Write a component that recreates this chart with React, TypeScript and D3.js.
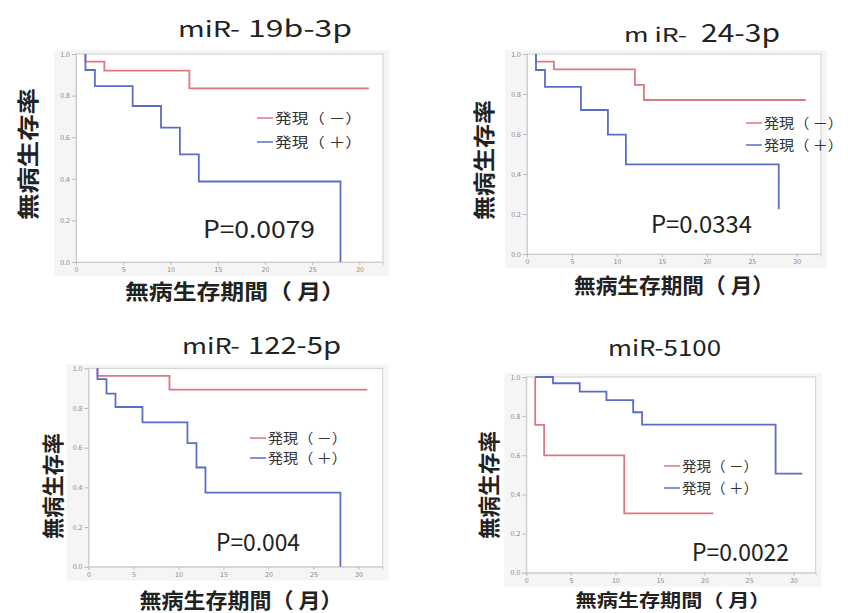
import { useRef, useEffect } from 'react';
import * as d3 from 'd3';

const W = 848;
const H = 613;
const RED = '#dc7882';
const BLUE = '#5a6ec8';
const FONT = '"Noto Sans CJK JP", "Noto Sans", sans-serif';

const X_TICKS = [0, 5, 10, 15, 20, 25, 30];
const Y_TICKS = [0, 0.2, 0.4, 0.6, 0.8, 1.0];
const LEGEND_LABELS = ['発現（ －）', '発現（ ＋）'];
const Y_TITLE = '無病生存率';
const X_TITLE = '無病生存期間（ 月）';

// miR-19b-3p
const neg19bTime = [1, 1, 3, 12, 31];
const neg19bSurv = [1, 0.963, 0.92, 0.835, 0.835];
const pos19bTime = [1, 1, 2, 6, 9, 11, 13, 28];
const pos19bSurv = [1, 0.923, 0.846, 0.75, 0.646, 0.517, 0.387, 0];

// miR-24-3p
const neg24Time = [1, 1, 3, 12, 13, 31];
const neg24Surv = [1, 0.962, 0.923, 0.846, 0.77, 0.77];
const pos24Time = [1, 1, 2, 6, 9, 11, 28];
const pos24Surv = [1, 0.92, 0.836, 0.72, 0.597, 0.448, 0.224];

// miR-122-5p
const neg122Time = [1, 1, 9, 31];
const neg122Surv = [1, 0.962, 0.893, 0.893];
const pos122Time = [1, 1, 2, 3, 6, 11, 12, 13, 28];
const pos122Surv = [1, 0.945, 0.872, 0.805, 0.727, 0.623, 0.5, 0.373, 0];

// miR-5100
const neg5100Time = [1, 1, 2, 11, 21];
const neg5100Surv = [1, 0.755, 0.6, 0.303, 0.303];
const pos5100Time = [1, 3, 6, 9, 12, 13, 28, 31];
const pos5100Surv = [1, 0.968, 0.925, 0.882, 0.82, 0.757, 0.506, 0.506];

const zip = (t: number[], s: number[]) => t.map((v, i) => [v, s[i]] as [number, number]);

// layout per panel (pixel boxes)
const PANELS = [
  {
    neg: zip(neg19bTime, neg19bSurv), pos: zip(pos19bTime, pos19bSurv),
    x0: 76, x1: 383, xMax: 32.5, y0: 54, y1: 262,
    title: [
      { text: 'miR-', x: 178, len: 62, size: 22 },
      { text: '19b-3p', x: 248, len: 104, size: 23 },
    ], titleY: 37,
    p: 'P=0.0079', px: 203, plen: 112, py: 238,
    leg: { x: 257, yr: 118, yb: 142, len: 87 },
    yt: { cx: 26, cy: 154, len: 132 },
    xt: { cx: 235, y: 299, len: 220, size: 21 },
  },
  {
    neg: zip(neg24Time, neg24Surv), pos: zip(pos24Time, pos24Surv),
    x0: 527, x1: 821, xMax: 32.7, y0: 54, y1: 254,
    title: [
      { text: 'm iR-', x: 624, len: 63, size: 19 },
      { text: '24-3p', x: 701, len: 79, size: 25 },
    ], titleY: 42,
    p: 'P=0.0334', px: 651, plen: 101, py: 233,
    leg: { x: 746, yr: 123, yb: 145, len: 79 },
    yt: { cx: 482, cy: 160, len: 120 },
    xt: { cx: 674, y: 293, len: 200, size: 21 },
  },
  {
    neg: zip(neg122Time, neg122Surv), pos: zip(pos122Time, pos122Surv),
    x0: 88.5, x1: 382.7, xMax: 32.7, y0: 368.3, y1: 566.7,
    title: [
      { text: 'miR-', x: 182, len: 58, size: 22 },
      { text: '122-5p', x: 248, len: 93, size: 24 },
    ], titleY: 354,
    p: 'P=0.004', px: 216, plen: 84, py: 551,
    leg: { x: 250, yr: 438, yb: 458, len: 79 },
    yt: { cx: 51, cy: 486, len: 106 },
    xt: { cx: 241, y: 608, len: 203, size: 21 },
  },
  {
    neg: zip(neg5100Time, neg5100Surv), pos: zip(pos5100Time, pos5100Surv),
    x0: 526.3, x1: 815.7, xMax: 32.5, y0: 377, y1: 572.7,
    title: [
      { text: 'miR-5100', x: 608, len: 113, size: 22 },
    ], titleY: 356,
    p: 'P=0.0022', px: 692, plen: 97, py: 561,
    leg: { x: 664, yr: 466, yb: 488, len: 76 },
    yt: { cx: 487, cy: 485, len: 108 },
    xt: { cx: 673, y: 607, len: 195, size: 18 },
  },
];

export default function App() {
  const svgRef = useRef<SVGSVGElement | null>(null);

  useEffect(() => {
    const svg = d3.select(svgRef.current);
    svg.selectAll('*').remove();

    PANELS.forEach((p) => {
      const g = svg.append('g');
      const x = d3.scaleLinear().domain([0, p.xMax]).range([p.x0, p.x1]);
      const y = d3.scaleLinear().domain([0, 1]).range([p.y1, p.y0]);

      // soft grey backdrop + white plot area
      g.append('rect')
        .attr('x', p.x0 - 22).attr('y', p.y0 - 4)
        .attr('width', p.x1 - p.x0 + 28).attr('height', p.y1 - p.y0 + 18)
        .attr('fill', '#f5f5f5');
      g.append('rect')
        .attr('x', p.x0).attr('y', p.y0)
        .attr('width', p.x1 - p.x0).attr('height', p.y1 - p.y0)
        .attr('fill', '#fff').attr('stroke', '#cfcfcf').attr('stroke-width', 1);

      // axes
      g.append('g')
        .attr('transform', `translate(${p.x0},0)`)
        .call(d3.axisLeft(y).tickValues(Y_TICKS).tickFormat(d3.format('.1f')).tickSize(4).tickPadding(2))
        .call((a) => a.select('.domain').attr('stroke', '#cfcfcf'))
        .call((a) => a.selectAll('.tick line').attr('stroke', '#bbb'))
        .call((a) => a.selectAll('.tick text').attr('fill', '#8a8a8a').attr('font-size', '7px').attr('font-family', FONT));

      g.append('g')
        .attr('transform', `translate(0,${p.y1})`)
        .call(d3.axisBottom(x).tickValues(X_TICKS).tickFormat(d3.format('d')).tickSize(3).tickPadding(2))
        .call((a) => a.select('.domain').attr('stroke', '#cfcfcf'))
        .call((a) => a.selectAll('.tick line').attr('stroke', '#bbb'))
        .call((a) => a.selectAll('.tick text').attr('fill', '#8a8a8a').attr('font-size', '7px').attr('font-family', FONT));

      // survival curves
      const line = d3.line<[number, number]>()
        .x((d) => x(d[0]))
        .y((d) => y(d[1]))
        .curve(d3.curveStepAfter);

      g.append('path').attr('d', line(p.neg)).attr('fill', 'none')
        .attr('stroke', RED).attr('stroke-width', 1.8);
      g.append('path').attr('d', line(p.pos)).attr('fill', 'none')
        .attr('stroke', BLUE).attr('stroke-width', 1.8);

      // legend
      [[p.leg.yr, RED], [p.leg.yb, BLUE]].forEach(([ly, c], i) => {
        g.append('line')
          .attr('x1', p.leg.x).attr('x2', p.leg.x + 16)
          .attr('y1', ly as number).attr('y2', ly as number)
          .attr('stroke', c as string).attr('stroke-width', 1.5);
        g.append('text')
          .attr('x', p.leg.x + 18).attr('y', (ly as number) + 5)
          .attr('font-family', FONT).attr('font-size', 14)
          .attr('fill', '#333')
          .attr('textLength', p.leg.len).attr('lengthAdjust', 'spacingAndGlyphs')
          .text(LEGEND_LABELS[i]);
      });

      // title
      p.title.forEach((t) => {
        g.append('text')
          .attr('x', t.x).attr('y', p.titleY)
          .attr('font-family', FONT).attr('font-size', t.size)
          .attr('fill', '#222')
          .attr('textLength', t.len).attr('lengthAdjust', 'spacingAndGlyphs')
          .text(t.text);
      });

      // p value
      g.append('text')
        .attr('x', p.px).attr('y', p.py)
        .attr('font-family', FONT).attr('font-size', 24)
        .attr('fill', '#222')
        .attr('textLength', p.plen).attr('lengthAdjust', 'spacingAndGlyphs')
        .text(p.p);

      // axis titles
      g.append('text')
        .attr('transform', `translate(${p.yt.cx},${p.yt.cy}) rotate(-90)`)
        .attr('text-anchor', 'middle').attr('dominant-baseline', 'central')
        .attr('font-family', FONT).attr('font-size', 22).attr('font-weight', 700)
        .attr('fill', '#222')
        .attr('textLength', p.yt.len).attr('lengthAdjust', 'spacingAndGlyphs')
        .text(Y_TITLE);

      g.append('text')
        .attr('x', p.xt.cx).attr('y', p.xt.y)
        .attr('text-anchor', 'middle')
        .attr('font-family', FONT).attr('font-size', p.xt.size).attr('font-weight', 700)
        .attr('fill', '#222')
        .attr('textLength', p.xt.len).attr('lengthAdjust', 'spacingAndGlyphs')
        .text(X_TITLE);
    });
  }, []);

  return (
    <svg
      ref={svgRef}
      width={W}
      height={H}
      style={{ position: 'absolute', left: 0, top: 0, background: '#fff' }}
    />
  );
}
